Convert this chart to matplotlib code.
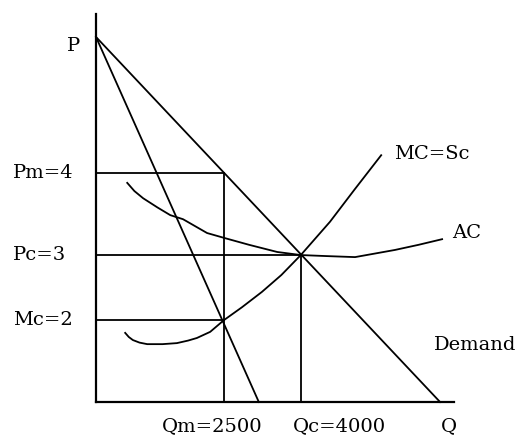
import matplotlib.pyplot as plt

# Price levels (labels) and their drawn heights on the schematic
price_labels = ["Pm=4", "Pc=3", "Mc=2"]
price_heights = [4.47, 2.87, 1.60]

# Quantities (thousands) and their labels
qty_labels = ["Qm=2500", "Qc=4000"]
qty_values = [2.5, 4.0]

# Demand and marginal revenue lines (intercepts)
p_intercept = 7.13
demand_q_end = 6.72
mr_q_end = 3.18

# MC curve
mc_q = [0.57, 0.64, 0.72, 0.85, 1.00, 1.30, 1.58, 1.80, 1.97, 2.23, 2.50, 2.85, 3.24, 3.62, 4.00, 4.57, 5.05, 5.57]
mc_h = [1.35, 1.27, 1.21, 1.16, 1.13, 1.13, 1.15, 1.20, 1.25, 1.37, 1.60, 1.85, 2.15, 2.48, 2.87, 3.52, 4.15, 4.82]

# AC curve
ac_q = [0.61, 0.75, 0.92, 1.20, 1.45, 1.70, 2.17, 2.52, 2.99, 3.54, 4.00, 4.50, 5.06, 5.45, 5.84, 6.30, 6.76]
ac_h = [4.28, 4.12, 3.98, 3.80, 3.65, 3.57, 3.30, 3.20, 3.07, 2.93, 2.87, 2.85, 2.83, 2.90, 2.97, 3.07, 3.18]

axis_top = 7.58
axis_right = 6.99

fig = plt.figure(figsize=(5.24, 4.43), dpi=100)
ax = fig.add_axes([0, 0, 1, 1])
ax.set_xlim(-96 / 51.2, 428 / 51.2)
ax.set_ylim(-41 / 51.2, 402 / 51.2)
ax.axis("off")

lw = 1.3
# axes
ax.plot([0, 0], [0, axis_top], color="black", lw=1.6)
ax.plot([0, axis_right], [0, 0], color="black", lw=1.6)

# demand and MR
ax.plot([0, demand_q_end], [p_intercept, 0], color="black", lw=lw)
ax.plot([0, mr_q_end], [p_intercept, 0], color="black", lw=lw)

# guide lines
pm, pc, mc = price_heights
qm, qc = qty_values
ax.plot([0, qm], [pm, pm], color="black", lw=lw)
ax.plot([qm, qm], [0, pm], color="black", lw=lw)
ax.plot([0, qc], [pc, pc], color="black", lw=lw)
ax.plot([qc, qc], [0, pc], color="black", lw=lw)
ax.plot([0, qm], [mc, mc], color="black", lw=lw)

# cost curves
ax.plot(mc_q, mc_h, color="black", lw=lw)
ax.plot(ac_q, ac_h, color="black", lw=lw)

font = dict(family="DejaVu Serif", fontsize=14, color="black")
ax.text(-0.3, 6.95, "P", ha="right", va="center", **font)
for lab, h in zip(price_labels, price_heights):
    ax.text(-1.62, h, lab, ha="left", va="center", **font)
ax.text(qm + 0.76, -0.47, qty_labels[0], ha="right", va="center", **font)
ax.text(qc - 0.15, -0.47, qty_labels[1], ha="left", va="center", **font)
ax.text(6.9, -0.47, "Q", ha="center", va="center", **font)
ax.text(5.83, 4.85, "MC=Sc", ha="left", va="center", **font)
ax.text(6.95, 3.3, "AC", ha="left", va="center", **font)
ax.text(6.6, 1.11, "Demand", ha="left", va="center", **font)

fig.savefig("out.png", dpi=100)
